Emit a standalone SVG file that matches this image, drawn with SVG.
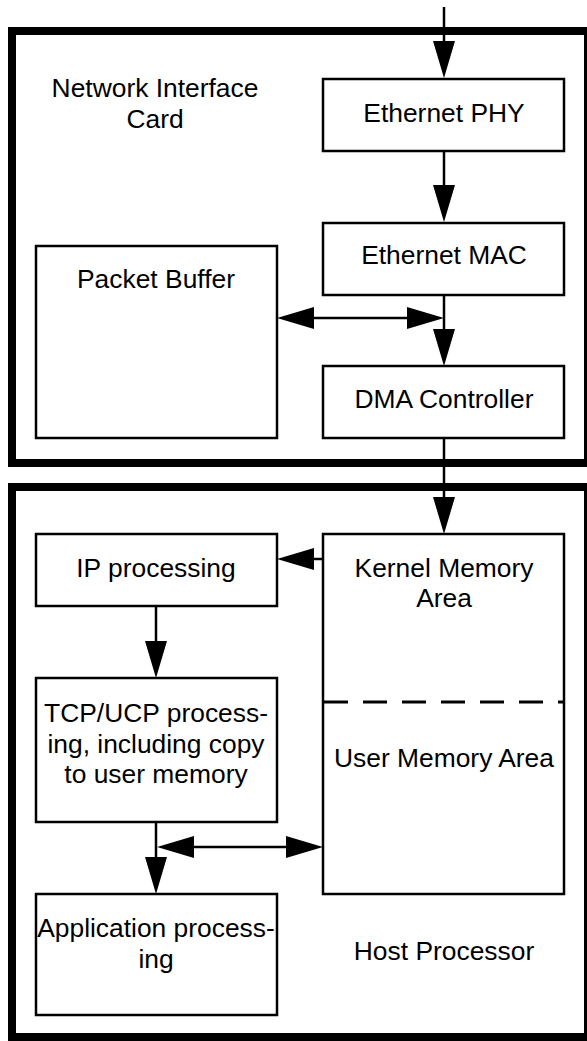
<svg xmlns="http://www.w3.org/2000/svg" width="587" height="1041" viewBox="0 0 587 1041">
  <style>
    .frame { fill: none; stroke: #000; stroke-width: 8; }
    .box { fill: #fff; stroke: #000; stroke-width: 2.5; }
    .lbl { font-family: "Liberation Sans", Arial, Helvetica, sans-serif; font-size: 26.4px; fill: #000; text-anchor: middle; }
    .wire { fill: none; stroke: #000; stroke-width: 2.5; }
    .dash { fill: none; stroke: #000; stroke-width: 3; stroke-dasharray: 24 15; }
  </style>
  <defs>
    <!-- filled triangular arrowhead, drawn forward from the end of the line -->
    <marker id="head" viewBox="0 0 37 22" refX="0" refY="11" markerWidth="37" markerHeight="22" markerUnits="userSpaceOnUse" orient="auto-start-reverse">
      <path d="M0,0 L37,11 L0,22 Z" fill="#000"/>
    </marker>
  </defs>
  <rect width="587" height="1041" fill="#fff"/>

  <!-- Network interface card enclosure -->
  <g id="nic">
    <rect class="frame" x="12" y="31" width="576" height="432"/>
    <text class="lbl" x="155" y="97">Network Interface</text>
    <text class="lbl" x="155" y="128">Card</text>
  </g>

  <!-- Host processor enclosure -->
  <g id="host">
    <rect class="frame" x="12" y="487" width="576" height="550"/>
    <text class="lbl" x="444" y="960">Host Processor</text>
  </g>

  <g id="eth-phy">
    <rect class="box" x="323" y="79" width="241" height="72"/>
    <text class="lbl" x="444" y="122">Ethernet PHY</text>
  </g>

  <g id="eth-mac">
    <rect class="box" x="323" y="223" width="241" height="72"/>
    <text class="lbl" x="444" y="264">Ethernet MAC</text>
  </g>

  <g id="dma">
    <rect class="box" x="323" y="366" width="241" height="72"/>
    <text class="lbl" x="444" y="408">DMA Controller</text>
  </g>

  <g id="packet-buffer">
    <rect class="box" x="36" y="246" width="241" height="192"/>
    <text class="lbl" x="156" y="288">Packet Buffer</text>
  </g>

  <g id="memory">
    <rect class="box" x="323" y="534" width="241" height="360"/>
    <text class="lbl" x="444" y="577">Kernel Memory</text>
    <text class="lbl" x="444" y="607">Area</text>
    <line class="dash" x1="324" y1="702" x2="564" y2="702"/>
    <text class="lbl" x="444" y="767">User Memory Area</text>
  </g>

  <g id="ip">
    <rect class="box" x="36" y="534" width="241" height="72"/>
    <text class="lbl" x="156" y="577">IP processing</text>
  </g>

  <g id="tcp">
    <rect class="box" x="36" y="678" width="241" height="144"/>
    <text class="lbl" x="156" y="722">TCP/UCP process-</text>
    <text class="lbl" x="156" y="752.5">ing, including copy</text>
    <text class="lbl" x="156" y="783">to user memory</text>
  </g>

  <g id="app">
    <rect class="box" x="36" y="894" width="241" height="121"/>
    <text class="lbl" x="156" y="937">Application process-</text>
    <text class="lbl" x="156" y="968">ing</text>
  </g>

  <g id="connectors">
    <line class="wire" x1="444" y1="7" x2="444" y2="41" marker-end="url(#head)"/>
    <line class="wire" x1="444" y1="151" x2="444" y2="185" marker-end="url(#head)"/>
    <line class="wire" x1="444" y1="295" x2="444" y2="329" marker-end="url(#head)"/>
    <line class="wire" x1="314" y1="318" x2="407" y2="318" marker-start="url(#head)" marker-end="url(#head)"/>
    <line class="wire" x1="444" y1="438" x2="444" y2="497" marker-end="url(#head)"/>
    <line class="wire" x1="323" y1="559" x2="314" y2="559" marker-end="url(#head)"/>
    <line class="wire" x1="156" y1="606" x2="156" y2="641" marker-end="url(#head)"/>
    <line class="wire" x1="156" y1="822" x2="156" y2="857" marker-end="url(#head)"/>
    <line class="wire" x1="194" y1="847" x2="286" y2="847" marker-start="url(#head)" marker-end="url(#head)"/>
  </g>
</svg>
